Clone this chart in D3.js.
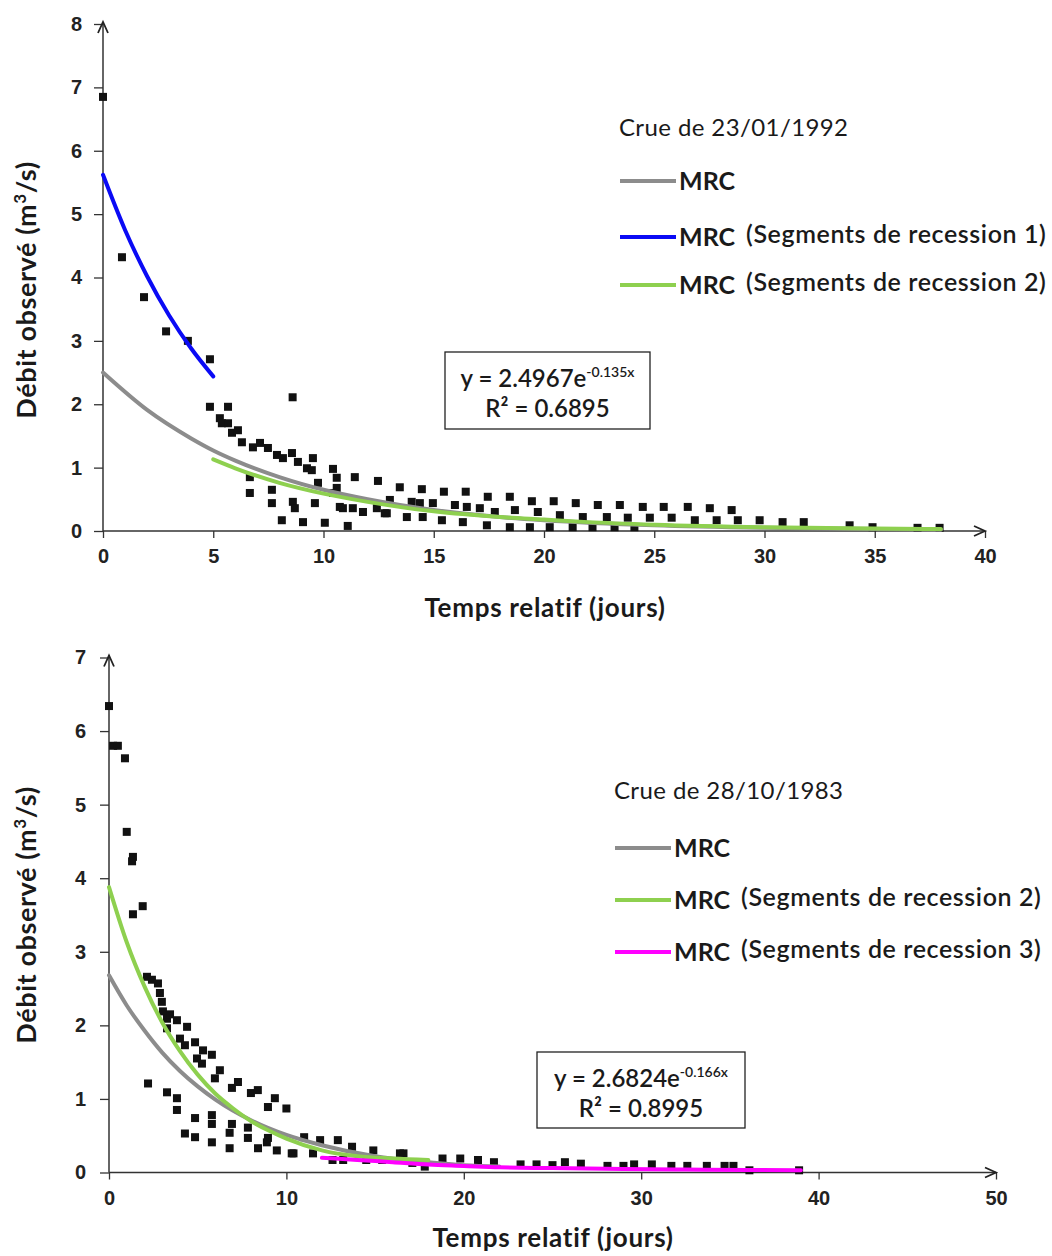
<!DOCTYPE html>
<html>
<head>
<meta charset="utf-8">
<script src="https://cdn.jsdelivr.net/npm/d3@7"></script>
<style>
  body { margin: 0; background: #fff; }
  svg { display: block; }
  .tick text { font-family: "Liberation Sans", Arial, sans-serif; font-size: 20px; font-weight: bold; fill: #222; }
  .ttl { font-family: Lato, "Open Sans", sans-serif; font-weight: bold; fill: #1a1a1a; }
  .leg { font-family: Lato, "Open Sans", sans-serif; fill: #1a1a1a; }
</style>
</head>
<body>
<div id="chart"></div>
<script>
// ---- chart 1 : crue de 23/01/1992 ----
var obs1T = [0,0.86,1.86,2.86,3.85,4.85,4.85,5.67,5.3,5.39,5.67,5.85,6.12,6.3,6.8,7.12,7.48,7.89,8.16,8.57,8.84,9.25,9.52,9.47,10.43,10.6,11.42,12.47,13.46,14.46,15.46,16.45,17.45,18.45,19.45,20.44,21.44,22.44,23.44,24.48,25.43,26.52,27.52,28.51,29.78,30.82,31.78,33.86,34.9,36.94,37.94,
  6.66,6.66,7.66,7.66,8.61,8.7,8.11,9.07,10.06,11.1,8.6,
  9.75,9.61,10.43,10.6,10.74,10.88,11.33,11.79,12.42,12.87,13.01,14.0,14.37,14.96,15.96,16.5,17.09,17.77,18.68,19.72,20.72,21.76,22.85,23.8,24.8,25.79,26.84,27.83,28.79,
  12.78,13.78,14.5,15.37,16.32,17.41,18.45,19.36,20.26,21.3,22.2,23.2,24.1];
var obs1Q = [6.85,4.32,3.69,3.15,3.0,2.71,1.96,1.96,1.78,1.7,1.7,1.55,1.59,1.4,1.32,1.39,1.31,1.2,1.15,1.23,1.09,0.99,1.15,0.96,0.98,0.84,0.85,0.79,0.69,0.66,0.62,0.62,0.54,0.54,0.47,0.47,0.44,0.41,0.41,0.38,0.38,0.38,0.36,0.33,0.17,0.14,0.14,0.09,0.06,0.05,0.05,
  0.85,0.6,0.65,0.44,0.46,0.36,0.17,0.14,0.13,0.08,2.11,
  0.76,0.44,0.6,0.68,0.38,0.36,0.36,0.3,0.36,0.28,0.49,0.46,0.44,0.44,0.41,0.38,0.36,0.3,0.33,0.3,0.25,0.22,0.22,0.21,0.21,0.21,0.17,0.17,0.17,
  0.28,0.22,0.22,0.17,0.14,0.09,0.06,0.06,0.06,0.06,0.06,0.06,0.06];

var mrc1T = [0,2,4,5,6,8,10,12,15,18,20,25,30,35,38];
var mrc1Q = [2.5,1.91,1.46,1.27,1.11,0.85,0.65,0.5,0.33,0.22,0.17,0.09,0.05,0.03,0.02];
var seg1aT = [0,1,2,3,4,5];
var seg1aQ = [5.62,4.75,4.02,3.4,2.88,2.44];
var seg1bT = [5,6,8,10,12,15,18,20,22,25,30,35,38];
var seg1bQ = [1.13,0.99,0.76,0.59,0.46,0.31,0.22,0.18,0.14,0.1,0.06,0.04,0.03];

var xTicks1 = [0,5,10,15,20,25,30,35,40];
var yTicks1 = [0,1,2,3,4,5,6,7,8];

// ---- chart 2 : crue de 28/10/1983 ----
var obs2T = [0,0.23,0.5,0.9,1.0,1.3,1.35,1.35,1.9,
  2.14,2.42,2.76,2.87,2.98,3.04,3.27,3.44,3.83,4.4,3.27,4.0,4.28,4.85,5.3,5.8,4.96,5.24,6.25,5.97,6.93,7.27,8.0,8.39,8.96,9.35,10.0,
  2.2,3.27,3.83,3.83,4.85,5.8,5.8,6.93,6.8,7.83,7.83,8.96,4.28,4.85,5.8,6.8,8.4,9.46,8.9,10.3,
  10.4,11.0,11.5,11.9,12.6,12.9,13.2,13.7,14.5,14.9,15.4,16.4,17.1,
  16.6,17.8,18.8,19.8,20.8,21.7,23.2,24.1,25.0,25.7,26.6,28.1,29.0,29.6,30.6,31.7,32.6,33.7,34.7,35.2,36.1,38.9];
var obs2Q = [6.34,5.8,5.8,5.63,4.63,4.23,4.29,3.51,3.62,
  2.66,2.62,2.57,2.44,2.32,2.19,2.09,2.15,2.07,1.98,1.96,1.82,1.73,1.77,1.66,1.6,1.55,1.48,1.39,1.28,1.15,1.23,1.08,1.12,0.89,1.01,0.87,
  1.21,1.09,1.01,0.85,0.74,0.78,0.66,0.66,0.54,0.61,0.47,0.47,0.53,0.48,0.41,0.33,0.33,0.3,0.41,0.26,
  0.26,0.48,0.26,0.44,0.17,0.44,0.17,0.35,0.17,0.3,0.17,0.26,0.13,
  0.26,0.08,0.19,0.19,0.17,0.14,0.11,0.11,0.1,0.14,0.12,0.09,0.09,0.11,0.11,0.09,0.09,0.09,0.09,0.09,0.03,0.03];

var mrc2T = [0,1,2,3,4,5,6,8,10,12,15,18,20,22];
var mrc2Q = [2.68,2.27,1.93,1.63,1.38,1.17,0.99,0.71,0.51,0.37,0.22,0.14,0.1,0.08];
var seg2aT = [0,1,2,3,4,5,6,7,8,9,10,12,14,16,18];
var seg2aQ = [3.88,3.13,2.53,2.04,1.65,1.33,1.07,0.87,0.7,0.57,0.46,0.3,0.22,0.19,0.17];
var seg2bT = [12,14,16,18,20,22,25,28,32,36,39];
var seg2bQ = [0.2,0.17,0.14,0.11,0.09,0.07,0.06,0.05,0.04,0.035,0.03];

var xTicks2 = [0,10,20,30,40,50];
var yTicks2 = [0,1,2,3,4,5,6,7];

var W = 1052, H = 1256;
var svg = d3.select("#chart").append("svg").attr("width", W).attr("height", H);

function pairs(ts, qs){ return ts.map(function(t,i){ return [t, qs[i]]; }); }

function drawChart(cfg){
    var g = svg.append("g");
    var x = d3.scaleLinear().domain(cfg.xDomain).range(cfg.xRange);
    var y = d3.scaleLinear().domain(cfg.yDomain).range(cfg.yRange);

    // axes
    g.append("g").attr("transform", "translate(0," + y(0) + ")")
        .call(d3.axisBottom(x).tickValues(cfg.xTicks).tickFormat(d3.format("d")).tickSize(7).tickPadding(11));
    g.append("g").attr("transform", "translate(" + x(0) + ",0)")
        .call(d3.axisLeft(y).tickValues(cfg.yTicks).tickFormat(d3.format("d")).tickSize(9).tickPadding(cfg.yPad));
    g.selectAll(".domain").remove();
    g.selectAll(".tick line").attr("stroke", "#333").attr("stroke-width", 1.3);

    var x0 = x(0), y0 = y(0), xEnd = cfg.xRange[1], yEnd = cfg.yRange[1] - 2;
    g.append("line").attr("x1", x0).attr("y1", y0).attr("x2", x0).attr("y2", yEnd)
        .attr("stroke", "#333").attr("stroke-width", 1.5);
    g.append("line").attr("x1", x0).attr("y1", y0).attr("x2", xEnd).attr("y2", y0)
        .attr("stroke", "#333").attr("stroke-width", 1.5);
    g.append("path").attr("d", "M" + (x0-5) + "," + (yEnd+11) + "L" + x0 + "," + yEnd + "L" + (x0+5) + "," + (yEnd+11))
        .attr("fill", "none").attr("stroke", "#222").attr("stroke-width", 1.8);
    g.append("path").attr("d", "M" + (xEnd-11) + "," + (y0-5) + "L" + xEnd + "," + y0 + "L" + (xEnd-11) + "," + (y0+5))
        .attr("fill", "none").attr("stroke", "#222").attr("stroke-width", 1.8);

    // observed points
    g.append("g").selectAll("rect").data(pairs(cfg.obsT, cfg.obsQ)).enter().append("rect")
        .attr("x", function(d){ return x(d[0]) - 4; })
        .attr("y", function(d){ return y(d[1]) - 4; })
        .attr("width", 8).attr("height", 8).attr("fill", "#111");

    // curves
    var line = d3.line().curve(d3.curveMonotoneX)
        .x(function(d){ return x(d[0]); }).y(function(d){ return y(d[1]); });
    cfg.curves.forEach(function(c){
        g.append("path").datum(pairs(c.t, c.q)).attr("d", line)
            .attr("fill", "none").attr("stroke", c.color).attr("stroke-width", 4)
            .attr("stroke-linecap", "round");
    });

    // axis titles
    g.append("text").attr("class", "ttl").attr("x", cfg.xTitle[0]).attr("y", cfg.xTitle[1])
        .attr("text-anchor", "middle").style("font-size", "26px").style("letter-spacing", "0.7px")
        .text("Temps relatif (jours)");
    var yt = g.append("text").attr("class", "ttl").attr("text-anchor", "middle")
        .style("font-size", "27px").style("letter-spacing", "0.6px")
        .attr("transform", "translate(" + cfg.yTitle[0] + "," + cfg.yTitle[1] + ") rotate(-90)");
    yt.append("tspan").text("Débit observé (m");
    yt.append("tspan").attr("dy", -10).style("font-size", "17px").text("3");
    yt.append("tspan").attr("dy", 10).text("/s)");

    // legend
    var L = cfg.legend;
    g.append("text").attr("class", "leg").attr("x", L.x + 4).attr("y", L.titleY)
        .style("font-size", "24px").style("letter-spacing", "0.4px").text(L.title);
    L.items.forEach(function(it){
        g.append("line").attr("x1", L.x + 5).attr("x2", L.x + 61).attr("y1", it.y).attr("y2", it.y)
            .attr("stroke", it.color).attr("stroke-width", 4);
        g.append("text").attr("class", "leg").attr("x", L.x + 64).attr("y", it.y + 9)
            .style("font-size", "25px").style("font-weight", "bold").text("MRC");
        if (it.label) {
            g.append("text").attr("class", "leg").attr("x", L.x + 131).attr("y", it.y + 6)
                .style("font-size", "25px").style("font-weight", "600").style("letter-spacing", "0.6px")
                .text(it.label);
        }
    });

    // equation box
    var B = cfg.box;
    g.append("rect").attr("x", B.x).attr("y", B.y).attr("width", B.w).attr("height", B.h)
        .attr("fill", "#fff").attr("stroke", "#222").attr("stroke-width", 1.3);
    var t1 = g.append("text").attr("class", "leg").attr("x", B.x + B.w/2).attr("y", B.y + 35)
        .attr("text-anchor", "middle").style("font-size", "24px").style("font-weight", "600");
    t1.append("tspan").text("y = " + B.a + "e");
    t1.append("tspan").attr("dy", -10).style("font-size", "14px").text(B.b);
    g.append("text").attr("class", "leg").attr("x", B.x + B.w/2).attr("y", B.y + 65)
        .attr("text-anchor", "middle").style("font-size", "24px").style("font-weight", "600")
        .text("R² = " + B.r2);
}

drawChart({
    xDomain: [0,40], xRange: [103,985], yDomain: [0,8], yRange: [531,24], yPad: 12,
    xTicks: xTicks1, yTicks: yTicks1, obsT: obs1T, obsQ: obs1Q,
    curves: [
        {t: mrc1T, q: mrc1Q, color: "#8c8c8c"},
        {t: seg1bT, q: seg1bQ, color: "#8ed04f"},
        {t: seg1aT, q: seg1aQ, color: "#0a0af5"}
    ],
    xTitle: [545, 617], yTitle: [36, 290],
    legend: {x: 615, title: "Crue de 23/01/1992", titleY: 136, items: [
        {y: 181, color: "#8c8c8c"},
        {y: 237, color: "#0a0af5", label: "(Segments de recession 1)"},
        {y: 285, color: "#8ed04f", label: "(Segments de recession 2)"}
    ]},
    box: {x: 445, y: 352, w: 205, h: 77, a: "2.4967", b: "-0.135x", r2: "0.6895"}
});

drawChart({
    xDomain: [0,50], xRange: [109,996], yDomain: [0,7], yRange: [1172.5,657.5], yPad: 14,
    xTicks: xTicks2, yTicks: yTicks2, obsT: obs2T, obsQ: obs2Q,
    curves: [
        {t: mrc2T, q: mrc2Q, color: "#8c8c8c"},
        {t: seg2aT, q: seg2aQ, color: "#8ed04f"},
        {t: seg2bT, q: seg2bQ, color: "#ff00ff"}
    ],
    xTitle: [553, 1247], yTitle: [36, 915],
    legend: {x: 610, title: "Crue de 28/10/1983", titleY: 799, items: [
        {y: 848, color: "#8c8c8c"},
        {y: 900, color: "#8ed04f", label: "(Segments de recession 2)"},
        {y: 952, color: "#ff00ff", label: "(Segments de recession 3)"}
    ]},
    box: {x: 537, y: 1052, w: 208, h: 76, a: "2.6824", b: "-0.166x", r2: "0.8995"}
});
</script>
</body>
</html>
